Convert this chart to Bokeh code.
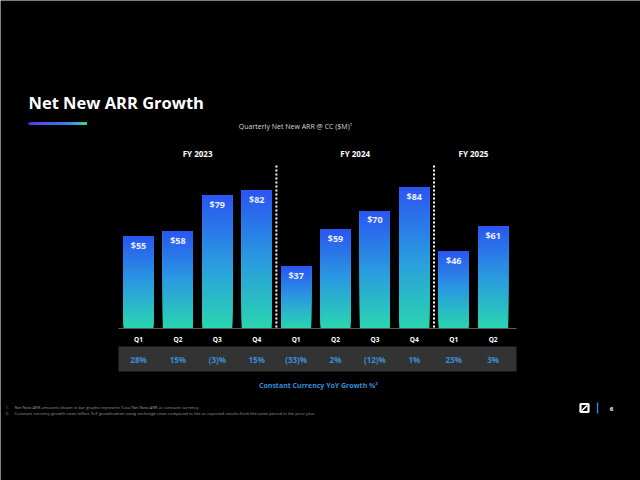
from bokeh.plotting import figure
from bokeh.models import Range1d, Label
from bokeh.core.properties import value
from bokeh.embed import file_html
from bokeh.resources import INLINE

# ---- data ----
quarters = ["Q1", "Q2", "Q3", "Q4", "Q1", "Q2", "Q3", "Q4", "Q1", "Q2"]
net_new_arr = [55, 58, 79, 82, 37, 59, 70, 84, 46, 61]
bar_labels = ["$55", "$58", "$79", "$82", "$37", "$59", "$70", "$84", "$46", "$61"]
yoy_growth = ["28%", "15%", "(3)%", "15%", "(33)%", "2%", "(12)%", "1%", "23%", "3%"]
fiscal_years = ["FY 2023", "FY 2024", "FY 2025"]
fy_center_index = [1.5, 5.5, 8.5]
fy_divider_index = [3.5, 7.5]

W, H = 640, 480
PX_PER_X = 39.4
PX_PER_Y = 1.68
xs = -138 / PX_PER_X
xe = xs + W / PX_PER_X
ys = -(H - 328) / PX_PER_Y
ye = ys + H / PX_PER_Y


def X(px):
    return xs + px / PX_PER_X


def Y(py):
    return ye - py / PX_PER_Y


p = figure(width=W, height=H, output_backend="svg", toolbar_location=None,
           x_range=Range1d(xs, xe), y_range=Range1d(ys, ye),
           x_axis_location=None, y_axis_location=None, min_border=0,
           background_fill_color="#000000", border_fill_color="#000000",
           outline_line_color=None)
p.grid.visible = False

FONT = value("Open Sans")


def hex2rgb(h):
    h = h.lstrip("#")
    return tuple(int(h[i:i + 2], 16) for i in (0, 2, 4))


def mix(c1, c2, t):
    a, b = hex2rgb(c1), hex2rgb(c2)
    return "#%02x%02x%02x" % tuple(int(round(a[i] + (b[i] - a[i]) * t)) for i in range(3))


# ---- gradient bars (each bar drawn as overlapping slices, bottom to top) ----
N = 40
BOTTOM_C, MID_C, TOP_C = "#2ad6b0", "#2a9ae0", "#2a55f2"
l, r, b, t, c = [], [], [], [], []
bw = 30 / PX_PER_X
for i, v in enumerate(net_new_arr):
    for k in range(N):
        f0 = k / N
        fm = (k + 0.5) / N
        col = mix(BOTTOM_C, MID_C, fm / 0.5) if fm < 0.5 else mix(MID_C, TOP_C, (fm - 0.5) / 0.5)
        l.append(i - bw / 2); r.append(i + bw / 2)
        b.append(v * f0); t.append(v)
        c.append(col)
p.quad(left=l, right=r, bottom=b, top=t, fill_color=c, line_color=None)

# bar value labels
idx = list(range(len(net_new_arr)))
p.text(x=idx, y=[v - 9 / PX_PER_Y for v in net_new_arr], text=bar_labels,
       text_font=FONT, text_font_style="bold", text_font_size="9px",
       text_color="#e8eefc", text_align="center", text_baseline="middle")

# baseline
p.segment(x0=[X(118)], x1=[X(516)], y0=[0], y1=[0], line_color="#5a5a5a", line_width=1)

# dividers
p.segment(x0=fy_divider_index, x1=fy_divider_index, y0=[Y(165)] * 2, y1=[0] * 2,
          line_color="#ffffff", line_width=2, line_dash="2 2")

# fiscal year labels
p.text(x=fy_center_index, y=[Y(153)] * 3, text=fiscal_years, text_font=FONT,
       text_font_style="bold", text_font_size="8px", text_color="#ffffff",
       text_align="center", text_baseline="middle")

# quarter labels
p.text(x=idx, y=[Y(339)] * len(idx), text=quarters, text_font=FONT,
       text_font_style="bold", text_font_size="6.5px", text_color="#ffffff",
       text_align="center", text_baseline="middle")

# growth band
p.quad(left=[X(118)], right=[X(516)], top=[Y(346)], bottom=[Y(371)],
       fill_color="#333333", line_color=None)
p.text(x=idx, y=[Y(358.5)] * len(idx), text=yoy_growth, text_font=FONT,
       text_font_style="bold", text_font_size="8px", text_color="#3b8fd6",
       text_align="center", text_baseline="middle")


# texts
def lab(px, py, txt, size, color, style="normal", align="left"):
    p.add_layout(Label(x=X(px), y=Y(py), text=txt, text_font="Open Sans",
                       text_font_size=size, text_color=color, text_font_style=style,
                       text_align=align, text_baseline="middle"))


lab(28, 101.5, "Net New ARR Growth", "16.5px", "#ffffff", "bold")
lab(295, 126, "Quarterly Net New ARR @ CC ($M)\u00b9", "7px", "#d8d8d8", align="center")
lab(318, 385, "Constant Currency YoY Growth %\u00b2", "7px", "#2f8fd8", "bold", "center")
lab(5, 407, "1.", "4.2px", "#9a9a9a")
lab(14, 407, "Net New ARR amounts shown in bar graphs represent Total Net New ARR at constant currency.",
    "4.2px", "#9a9a9a")
lab(5, 413, "2.", "4.2px", "#9a9a9a")
lab(14, 413, "Constant currency growth rates reflect YoY growth when using exchange rates compared to the as reported results from the same period in the prior year.",
    "4.2px", "#9a9a9a")
lab(611, 408, "6", "6px", "#ffffff", "bold", "center")

# title underline gradient (overlapping slices)
M = 30
gx0, gx1 = 28, 86
g_left = [X(gx0 + (gx1 - gx0) * k / M) for k in range(M)]
g_right = [X(gx1)] * M
gcols = [mix("#5b3cf0", "#3a7ae8", (k / M) / 0.6) if k / M < 0.6 else mix("#3a7ae8", "#3ddc9c", (k / M - 0.6) / 0.4) for k in range(M)]
p.quad(left=g_left, right=g_right, top=[Y(122)] * M, bottom=[Y(124.2)] * M,
       fill_color=gcols, line_color=None)

# logo
p.scatter(x=[X(584)], y=[Y(407.5)], marker="square", size=8, fill_color=None,
          line_color="#ffffff", line_width=2.2)
p.segment(x0=[X(581.5)], x1=[X(586.5)], y0=[Y(410)], y1=[Y(405)], line_color="#ffffff", line_width=1.6)
p.segment(x0=[X(597)], x1=[X(597)], y0=[Y(402)], y1=[Y(413)], line_color="#3a7fd0", line_width=1.5)

html = file_html(p, INLINE)
open("out.html", "w").write(html)
